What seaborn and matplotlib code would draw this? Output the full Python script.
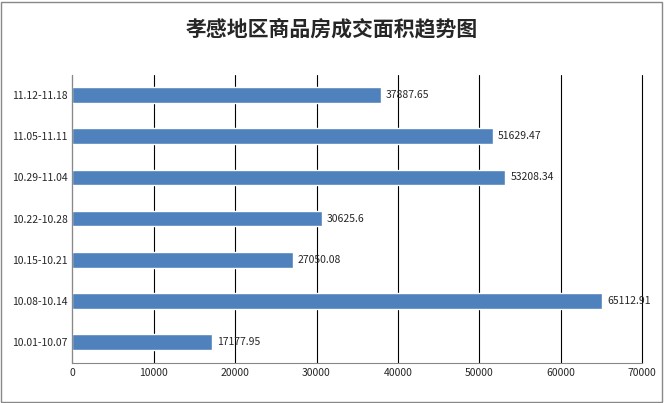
import matplotlib
matplotlib.use("Agg")
import matplotlib.pyplot as plt
import seaborn as sns
import pandas as pd

weeks = ["11.12-11.18", "11.05-11.11", "10.29-11.04", "10.22-10.28",
         "10.15-10.21", "10.08-10.14", "10.01-10.07"]
areas = [37887.65, 51629.47, 53208.34, 30625.6, 27050.08, 65112.91, 17177.95]
labels = ["37887.65", "51629.47", "53208.34", "30625.6", "27050.08", "65112.91", "17177.95"]

df = pd.DataFrame({"week": weeks, "area": areas})

sns.set_style("white")
plt.rcParams['font.family'] = ['Noto Sans CJK SC', 'DejaVu Sans']

fig = plt.figure(figsize=(6.64, 4.03), dpi=100)
ax = fig.add_axes([0.109, 0.10, 0.858, 0.715])
sns.barplot(data=df, y="week", x="area", orient="h", color="#4F81BD",
            saturation=1, width=0.38, ax=ax)

for i, (v, t) in enumerate(zip(areas, labels)):
    ax.text(v + 600, i, t, va="center", ha="left", fontsize=7.5)

ax.set_xlim(0, 70000)
ax.set_xticks(range(0, 70001, 10000))
ax.set_xticklabels([str(x) for x in range(0, 70001, 10000)], fontsize=7.5)
ax.tick_params(axis="y", labelsize=7.5, length=0)
ax.tick_params(axis="x", length=0)
ax.set_xlabel("")
ax.set_ylabel("")
ax.xaxis.grid(True, color="black", linewidth=0.8)
for gl in ax.get_xgridlines():
    gl.set_clip_on(False)
ax.set_axisbelow(True)
for s in ax.spines.values():
    s.set_visible(False)
ax.spines["left"].set_visible(True)
ax.spines["left"].set_color("#888888")
ax.spines["bottom"].set_visible(True)
ax.spines["bottom"].set_color("#888888")

fig.suptitle("孝感地区商品房成交面积趋势图", y=0.955, fontsize=15, fontweight="bold")
fig.patches.append(plt.Rectangle((0.002, 0.003), 0.995, 0.993, transform=fig.transFigure,
                                 fill=False, edgecolor="#888888", linewidth=1))
fig.savefig("out.png", dpi=100)
